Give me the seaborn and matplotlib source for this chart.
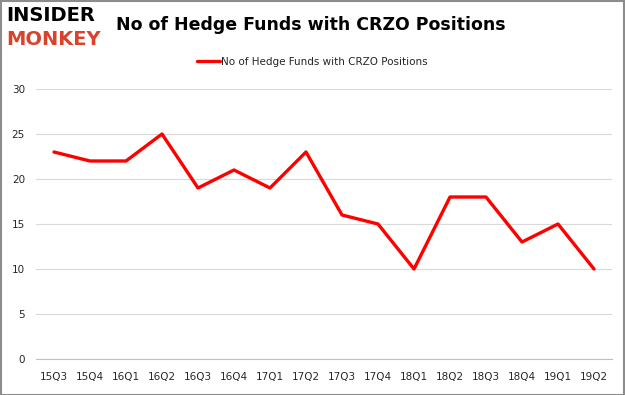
import numpy as np
import pandas as pd
import seaborn as sns
import matplotlib.pyplot as plt
from matplotlib.patches import Rectangle

quarters = ["15Q3", "15Q4", "16Q1", "16Q2", "16Q3", "16Q4", "17Q1", "17Q2",
            "17Q3", "17Q4", "18Q1", "18Q2", "18Q3", "18Q4", "19Q1", "19Q2"]
funds = [23, 22, 22, 25, 19, 21, 19, 23, 16, 15, 10, 18, 18, 13, 15, 10]
series_name = "No of Hedge Funds with CRZO Positions"

df = pd.DataFrame({"quarter": quarters, "funds": funds})
df["pos"] = np.arange(len(df))

sns.set_style("white")
plt.rcParams['font.family'] = ['DejaVu Sans']

fig = plt.figure(figsize=(6.25, 3.95), dpi=100)
ax = fig.add_axes([0.0576, 0.0911, 0.9216, 0.6836])

sns.lineplot(data=df, x="pos", y="funds", color="#ff0000", linewidth=2.4,
             ax=ax, label=series_name)

ax.set_xlim(-0.5, len(quarters) - 0.5)
ax.set_ylim(0, 30)
ax.set_yticks(range(0, 31, 5))
ax.set_xticks(np.arange(len(quarters)))
ax.set_xticklabels(quarters)
ax.set_xticks(np.arange(len(quarters) + 1) - 0.5, minor=True)
ax.tick_params(axis="x", which="minor", length=4, color="#bfbfbf", width=0.8)
ax.tick_params(axis="x", which="major", length=0, pad=9, labelsize=7.5)
ax.tick_params(axis="y", length=0, pad=8, labelsize=7.5)
ax.grid(axis="y", color="#d9d9d9", linewidth=0.8)
ax.set_axisbelow(True)
for s in ["top", "right", "left"]:
    ax.spines[s].set_visible(False)
ax.spines["bottom"].set_color("#bfbfbf")
ax.set_xlabel("")
ax.set_ylabel("")

ax.legend(loc="center", bbox_to_anchor=(0.48, 1.1), frameon=False,
          fontsize=7.5, handlelength=2.2, handletextpad=0.1)

fig.text(0.498, 0.937, series_name, ha="center", va="center",
         fontsize=12.5, fontweight="bold", color="black")
fig.text(0.01, 0.96, "INSIDER", ha="left", va="center", fontsize=14,
         fontweight="bold", color="black")
fig.text(0.01, 0.9, "MONKEY", ha="left", va="center", fontsize=14,
         fontweight="bold", color="#d9432e")

fig.patches.append(Rectangle((0.001, 0.001), 0.997, 0.997, transform=fig.transFigure,
                             fill=False, edgecolor="#8c8c8c", linewidth=1.5))

fig.savefig("out.png", dpi=100)
